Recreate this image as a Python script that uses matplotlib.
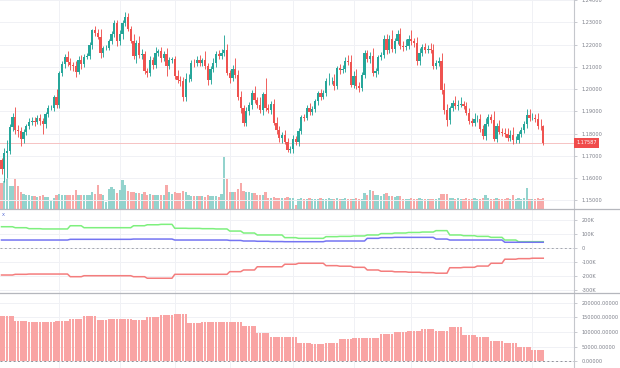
import numpy as np
import pandas as pd
import matplotlib
matplotlib.use("Agg")
import matplotlib.pyplot as plt
import matplotlib.transforms as mtransforms
from matplotlib.lines import Line2D

# ---- data -----------------------------------------------------------------
# daily FX sessions, Christmas day and New Year's day have no candle
dates = pd.bdate_range("2020-11-02", "2021-08-06").drop(
    pd.to_datetime(["2020-12-25", "2021-01-01"]))

first_open = 1.1680
closes = [
    1.1641, 1.1715, 1.1722, 1.1830, 1.1875,
    1.1815, 1.1812, 1.1778, 1.1808, 1.1834,
    1.1855, 1.1857, 1.1852, 1.1872, 1.1858,
    1.1842, 1.1887, 1.1915, 1.1915, 1.1963,
    1.1927, 1.2072, 1.2114, 1.2145, 1.2121,
    1.2108, 1.2104, 1.2079, 1.2132, 1.2113,
    1.2147, 1.2150, 1.2199, 1.2267, 1.2255,
    1.2237, 1.2161, 1.2185, 1.2187,
    1.2215, 1.2250, 1.2298, 1.2215,
    1.2248, 1.2297, 1.2325, 1.2270, 1.2219,
    1.2150, 1.2210, 1.2155, 1.2157, 1.2080,
    1.2075, 1.2130, 1.2107, 1.2164, 1.2170,
    1.2140, 1.2160, 1.2105, 1.2130, 1.2135,
    1.2060, 1.2040, 1.2036, 1.1963, 1.2045,
    1.2048, 1.2120, 1.2118, 1.2132, 1.2118,
    1.2130, 1.2105, 1.2040, 1.2090, 1.2120,
    1.2158, 1.2150, 1.2165, 1.2175, 1.2075,
    1.2050, 1.2090, 1.2063, 1.1966, 1.1915,
    1.1848, 1.1900, 1.1928, 1.1985, 1.1952,
    1.1930, 1.1905, 1.1977, 1.1915, 1.1905,
    1.1935, 1.1850, 1.1815, 1.1780, 1.1795,
    1.1765, 1.1728, 1.1730, 1.1778, 1.1762,
    1.1813, 1.1875, 1.1872, 1.1916, 1.1898,
    1.1910, 1.1946, 1.1981, 1.1965, 1.1983,
    1.2035, 1.2035, 1.2035, 1.2015, 1.2095,
    1.2085, 1.2090, 1.2127, 1.2123, 1.2020,
    1.2060, 1.2015, 1.2005, 1.2065, 1.2165,
    1.2135, 1.2150, 1.2075, 1.2080, 1.2145,
    1.2155, 1.2225, 1.2175, 1.2225, 1.2180,
    1.2215, 1.2250, 1.2195, 1.2190, 1.2195,
    1.2225, 1.2215, 1.2210, 1.2125, 1.2165,
    1.2190, 1.2175, 1.2180, 1.2175, 1.2105,
    1.2120, 1.2125, 1.1995, 1.1905, 1.1860,
    1.1915, 1.1940, 1.1925, 1.1930, 1.1935,
    1.1925, 1.1895, 1.1858, 1.1850, 1.1865,
    1.1865, 1.1823, 1.1790, 1.1845, 1.1875,
    1.1863, 1.1778, 1.1835, 1.1810, 1.1805,
    1.1800, 1.1780, 1.1795, 1.1770, 1.1770,
    1.1800, 1.1815, 1.1843, 1.1885, 1.1870,
    1.1870, 1.1865, 1.1835, 1.1833, 1.17587,
]

# wick length above / below the body, in pips
upper_wick = [
    9, 20, 48, 12, 16,   45, 25, 18, 12, 10,   14, 18, 20, 12, 15,
    14, 10, 16, 15, 12,  40, 10, 12, 15, 28,   18, 15, 22, 18, 24,
    10, 15, 12, 5, 18,   18, 36, 8, 10,        12, 10, 12, 14,
    20, 12, 24, 18, 15,  28, 12, 28, 22, 15,   14, 18, 16, 24, 10,
    22, 14, 25, 15, 12,  14, 28, 20, 18, 30,   22, 12, 16, 18, 24,
    10, 40, 12, 15, 20,  16, 20, 18, 68, 30,   12, 18, 50, 22, 25,
    14, 20, 16, 10, 30,  12, 35, 12, 75, 20,   12, 22, 25, 20, 15,
    20, 18, 15, 18, 14,  12, 10, 12, 12, 22,   16, 12, 12, 22, 12,
    14, 40, 18, 32, 10,  20, 18, 20, 25, 30,   20, 32, 18, 12, 10,
    10, 18, 35, 16, 8,   12, 20, 25, 20, 40,   15, 15, 25, 20, 30,
    20, 40, 15, 25, 20,  15, 20, 18, 30, 30,   12, 20, 40, 35, 30,
    10, 12, 30, 20, 30,  12, 18, 20, 15, 30,   20, 25, 15, 25, 12,
    15, 40, 12, 28, 15,  20, 25, 20, 35, 20,   12, 15, 15, 25, 24,
    22, 18, 30, 30, 8,
]
lower_wick = [
    20, 60, 112, 15, 18,  15, 28, 33, 18, 14,  12, 15, 18, 10, 20,
    42, 14, 12, 10, 14,   12, 10, 14, 20, 18,  20, 22, 25, 10, 20,
    14, 12, 14, 20, 15,   12, 20, 18, 8,       10, 12, 16, 20,
    18, 20, 14, 10, 12,   15, 30, 15, 18, 12,  20, 15, 18, 12, 14,
    18, 12, 45, 15, 12,   15, 12, 20, 16, 18,  14, 12, 18, 15, 14,
    15, 12, 22, 18, 14,   18, 15, 12, 15, 12,  20, 14, 12, 15, 20,
    12, 14, 15, 18, 12,   15, 12, 20, 12, 14,  18, 12, 15, 18, 20,
    12, 8, 16, 15, 14,    15, 12, 15, 12, 14,  12, 14, 15, 12, 10,
    14, 15, 12, 20, 12,   15, 12, 14, 15, 12,  15, 12, 18, 15, 14,
    12, 15, 15, 18, 12,   15, 14, 15, 12, 14,  15, 12, 14, 16, 14,
    12, 15, 18, 15, 14,   14, 12, 14, 12, 16,  12, 14, 15, 15, 25,
    14, 12, 15, 18, 12,   14, 12, 12, 15, 15,  12, 14, 15, 16, 12,
    14, 12, 15, 12, 15,   15, 14, 12, 15, 12,  12, 14, 12, 15, 12,
    10, 12, 14, 15, 8,
]

# tick volume, thousands
volumes = [
    260, 280, 300, 230, 230,  310, 230, 170, 150, 140,  140, 135, 130, 125, 135,
    140, 125, 120, 90, 115,   140, 150, 145, 140, 145,  140, 145, 190, 140, 145,
    140, 140, 145, 170, 150,  240, 150, 140, 70,        200, 220, 200, 160,
    190, 290, 240, 180, 170,  170, 165, 160, 150, 170,  140, 150, 145, 140, 140,
    145, 140, 240, 170, 150,  170, 165, 160, 180, 170,  140, 135, 130, 135, 130,
    130, 125, 140, 130, 135,  130, 125, 150, 520, 310,  170, 175, 170, 200, 260,
    180, 175, 170, 165, 160,  145, 140, 140, 170, 115,  110, 120, 115, 110, 115,
    110, 120, 115, 110, 40,   105, 110, 105, 100, 110,  105, 100, 105, 110, 100,
    105, 110, 100, 105, 110,  105, 100, 110, 105, 100,  105, 110, 100, 105, 160,
    140, 190, 185, 140, 140,  135, 150, 160, 135, 130,  125, 135, 130, 100, 105,
    100, 110, 105, 100, 115,  105, 100, 105, 100, 105,  100, 110, 150, 155, 150,
    115, 110, 105, 110, 100,  105, 110, 100, 105, 110,  100, 105, 110, 140, 110,
    105, 100, 110, 100, 105,  100, 110, 105, 140, 105,  110, 100, 115, 210, 105,
    100, 105, 110, 100, 115,
]

# weekly positioning (thousands of contracts), one value per week
cot_green = [152, 145, 138, 136, 136, 159, 145, 145, 145, 145,
             159, 166, 169, 141, 140, 138, 136, 121, 107, 93,
             93, 74, 69, 69, 81, 83, 86, 93, 103, 107,
             111, 114, 124, 93, 88, 83, 76, 57, 45, 45]
cot_blue = [57, 57, 57, 57, 57, 62, 62, 62, 62, 62,
            64, 64, 64, 57, 57, 57, 57, 54, 50, 48,
            46, 45, 45, 45, 50, 50, 50, 69, 74, 76,
            76, 76, 64, 57, 57, 57, 57, 41, 41, 41]
cot_red = [-193, -188, -186, -186, -186, -205, -198, -198, -198, -198,
           -205, -216, -216, -188, -188, -188, -188, -169, -157, -134,
           -134, -116, -109, -109, -126, -130, -138, -157, -166, -170,
           -173, -176, -180, -141, -138, -129, -109, -80, -76, -73]
open_interest = [155000, 138000, 133000, 133000, 138000, 144000, 156000, 141000, 145000, 145000,
                 141000, 151000, 159000, 162000, 130000, 135000, 135000, 135000, 121000, 95000,
                 84000, 84000, 61000, 60000, 63000, 76000, 80000, 80000, 93000, 99000,
                 104000, 110000, 104000, 116000, 90000, 84000, 70000, 61000, 47000, 38000]

price_ticks = [1.15, 1.16, 1.17, 1.18, 1.19, 1.20, 1.21, 1.22, 1.23, 1.24]
mid_ticks = [200, 100, 0, -100, -200, -300]
mid_labels = ["200K", "100K", "0", "-100K", "-200K", "-300K"]
oi_ticks = [0, 50000, 100000, 150000, 200000]
last_price = 1.17587

# ---- style ----------------------------------------------------------------
W, H = 620, 368
AXIS_X = 574          # right price scale starts here (px)
PANES = [(0, 209), (209, 292), (292, 368)]   # top/bottom of each pane (px)
UP, DOWN = "#26a69a", "#ef5350"
VOL_UP, VOL_DOWN = "#93d3cd", "#f7a9a8"
GRID = "#f0f1f5"
TICK_COLOR = "#b2b5be"
LABEL_COLOR = "#7b7e88"
LABEL_SIZE = 3.6


def pane_rect(top, bottom):
    return [0, 1 - bottom / H, AXIS_X / W, (bottom - top) / H]


def style_scale(ax):
    for side in ("top", "left", "bottom"):
        ax.spines[side].set_visible(False)
    ax.spines["right"].set_color("#c5c7cc")
    ax.spines["right"].set_linewidth(0.8)
    ax.yaxis.tick_right()
    ax.tick_params(axis="y", length=2.5, width=0.5, colors=TICK_COLOR,
                   labelcolor=LABEL_COLOR, labelsize=LABEL_SIZE, pad=3)
    ax.tick_params(axis="x", length=0, labelbottom=False)


n = len(closes)
x = np.arange(n)
closes_a = np.array(closes)
opens = np.r_[first_open, closes_a[:-1]]
highs = np.maximum(opens, closes_a) + np.array(upper_wick) * 1e-4
lows = np.minimum(opens, closes_a) - np.array(lower_wick) * 1e-4
rising = closes_a >= opens

week = pd.factorize(dates.to_period("W"))[0]
month_starts = np.flatnonzero(np.r_[False, dates.month[1:] != dates.month[:-1]])

# candle spacing is 2.75 px, first candle centred at 1.5 px
xlim = (-1.5 / 2.75, (AXIS_X - 1.5) / 2.75)

fig = plt.figure(figsize=(W / 100, H / 100), dpi=100)

# ---- price pane with volume underneath --------------------------------------
ax_vol = fig.add_axes(pane_rect(*PANES[0]))
ax_vol.bar(x, volumes, width=0.74, color=np.where(rising, VOL_UP, VOL_DOWN), linewidth=0)
ax_vol.set_ylim(0, 2090)
ax_vol.set_xlim(*xlim)
ax_vol.set_yticks([])
ax_vol.set_xticks(month_starts)
ax_vol.tick_params(axis="x", length=0, labelbottom=False)
ax_vol.grid(axis="x", color=GRID, linewidth=0.7)
ax_vol.set_axisbelow(True)
for s in ax_vol.spines.values():
    s.set_visible(False)

ax = fig.add_axes(pane_rect(*PANES[0]), facecolor="none")
ax.set_xlim(*xlim)
ax.set_ylim(1.24011 - 209 / 2225, 1.24011)
for t in price_ticks:
    ax.axhline(t, color=GRID, linewidth=0.7, zorder=0)
ax.axhline(last_price, color="#f6c3c3", linewidth=0.7, zorder=1)
colors = np.where(rising, UP, DOWN)
ax.vlines(x, lows, highs, colors=colors, linewidth=0.65, zorder=2)
body = np.maximum(np.abs(closes_a - opens), 0.00008)
ax.bar(x, body, bottom=np.minimum(opens, closes_a), width=0.74, color=colors,
       linewidth=0, zorder=3)
ax.set_yticks(price_ticks)
ax.set_yticklabels([f"{t:.5f}" for t in price_ticks])
ax.set_xticks([])
style_scale(ax)
tr = mtransforms.blended_transform_factory(ax.transAxes, ax.transData)
ax.text(1.004, last_price, f"{last_price:.5f}", transform=tr, ha="left", va="center",
        fontsize=LABEL_SIZE, color="white",
        bbox=dict(boxstyle="square,pad=0.45", facecolor="#f04b4b", edgecolor="none"))

# ---- positioning lines ------------------------------------------------------
ax_mid = fig.add_axes(pane_rect(*PANES[1]))
ax_mid.set_xlim(*xlim)
ax_mid.set_ylim(-314.3, 278.6)
ax_mid.set_xticks(month_starts)
ax_mid.grid(axis="both", color=GRID, linewidth=0.7)
ax_mid.set_axisbelow(True)
ax_mid.axhline(0, color="#a3a6ad", linewidth=0.7, linestyle=(0, (2, 2.5)))
ax_mid.plot(x, np.array(cot_green)[week], color="#7ef07e", linewidth=1.1)
ax_mid.plot(x, np.array(cot_blue)[week], color="#7474f2", linewidth=1.1)
ax_mid.plot(x, np.array(cot_red)[week], color="#f47d7d", linewidth=1.1)
ax_mid.set_yticks(mid_ticks)
ax_mid.set_yticklabels(mid_labels)
style_scale(ax_mid)

# ---- open interest bars -----------------------------------------------------
ax_oi = fig.add_axes(pane_rect(*PANES[2]))
ax_oi.set_xlim(*xlim)
ax_oi.set_ylim(-24100, 237900)
ax_oi.set_xticks(month_starts)
ax_oi.grid(axis="both", color=GRID, linewidth=0.7)
ax_oi.set_axisbelow(True)
ax_oi.bar(x, np.array(open_interest)[week], width=0.78, color="#f9a4a4", linewidth=0)
ax_oi.axhline(0, color="#8f929a", linewidth=0.7, linestyle=(0, (2, 2.5)))
ax_oi.set_yticks(oi_ticks)
ax_oi.set_yticklabels([f"{t:.5f}" for t in oi_ticks])
style_scale(ax_oi)

# pane separators and the small legend toggle of the middle pane
for y in (209.5, 292.5):
    fig.add_artist(Line2D([0, 1], [1 - y / H, 1 - y / H], transform=fig.transFigure,
                          color="#b5b7bd", linewidth=0.9))
fig.text(1.5 / W, 1 - 216 / H, "x", fontsize=3.6, color="#5b6fd6")

fig.savefig("out.png", dpi=100)
